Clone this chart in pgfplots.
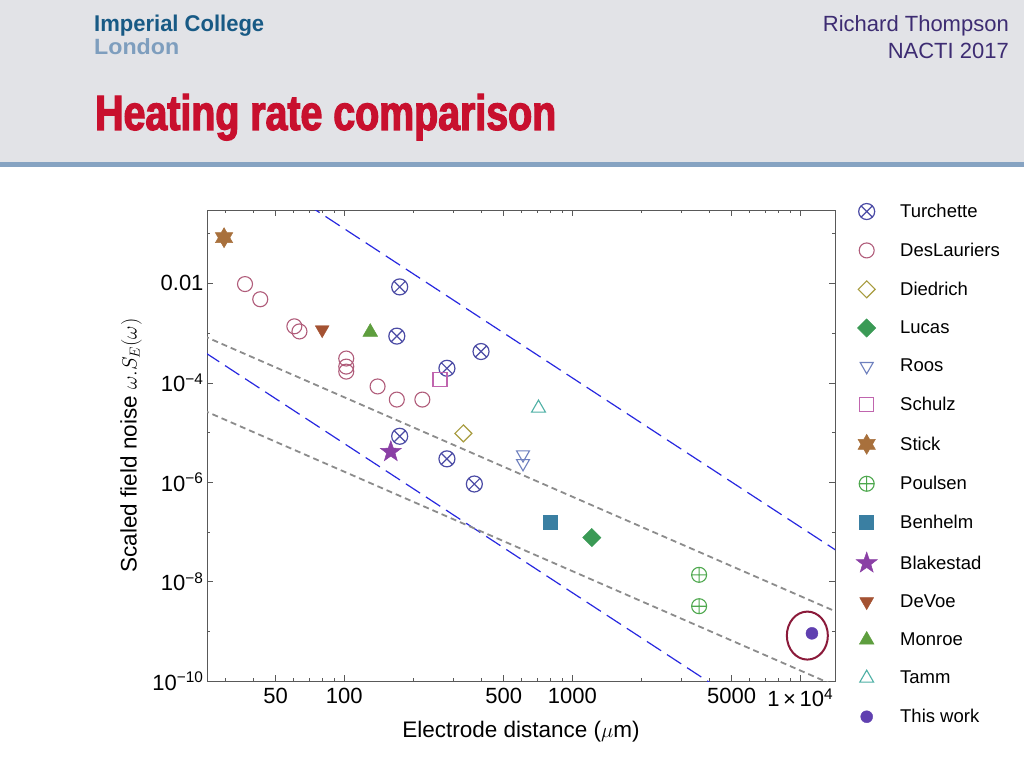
\documentclass[border=0pt]{standalone}
\usepackage{fontspec}
\setmainfont{Liberation Sans}
\newfontfamily\logofont[FakeStretch=0.95]{Liberation Sans}
\newfontfamily\titlefont[FakeStretch=0.68,FakeBold=2.2]{Liberation Sans}
\usepackage{pgfplots}
\pgfplotsset{compat=1.18}
\usepackage{graphicx}

\definecolor{hdrbg}{HTML}{E2E3E7}
\definecolor{hdrline}{HTML}{86A3C2}
\definecolor{icblue}{HTML}{185A85}
\definecolor{iclight}{HTML}{7E9EBE}
\definecolor{authc}{HTML}{3D2C72}
\definecolor{titlered}{HTML}{C8102E}
\definecolor{cturc}{HTML}{4B4BA5}
\definecolor{cdesl}{HTML}{B05C7A}
\definecolor{cdied}{HTML}{A89C40}
\definecolor{clucas}{HTML}{3A9A55}
\definecolor{croos}{HTML}{6E80BE}
\definecolor{cschulz}{HTML}{C065AE}
\definecolor{cstick}{HTML}{A8703C}
\definecolor{cpoul}{HTML}{4EA84E}
\definecolor{cbenh}{HTML}{3A7FA2}
\definecolor{cblake}{HTML}{8A3FA5}
\definecolor{cdevoe}{HTML}{A45232}
\definecolor{cmonroe}{HTML}{5E9E3E}
\definecolor{ctamm}{HTML}{4EB0A5}
\definecolor{cwork}{HTML}{6040B0}
\definecolor{cellipse}{HTML}{8B1A3A}
\definecolor{cblue}{HTML}{2828E0}
\definecolor{cgray}{HTML}{8C8C8C}

\pgfdeclareplotmark{sixstar}{%
  \pgfpathmoveto{\pgfpointpolar{90}{\pgfplotmarksize}}%
  \pgfpathlineto{\pgfpointpolar{120}{0.577\pgfplotmarksize}}%
  \pgfpathlineto{\pgfpointpolar{150}{\pgfplotmarksize}}%
  \pgfpathlineto{\pgfpointpolar{180}{0.577\pgfplotmarksize}}%
  \pgfpathlineto{\pgfpointpolar{210}{\pgfplotmarksize}}%
  \pgfpathlineto{\pgfpointpolar{240}{0.577\pgfplotmarksize}}%
  \pgfpathlineto{\pgfpointpolar{270}{\pgfplotmarksize}}%
  \pgfpathlineto{\pgfpointpolar{300}{0.577\pgfplotmarksize}}%
  \pgfpathlineto{\pgfpointpolar{330}{\pgfplotmarksize}}%
  \pgfpathlineto{\pgfpointpolar{0}{0.577\pgfplotmarksize}}%
  \pgfpathlineto{\pgfpointpolar{30}{\pgfplotmarksize}}%
  \pgfpathlineto{\pgfpointpolar{60}{0.577\pgfplotmarksize}}%
  \pgfpathclose\pgfusepathqfillstroke}
\pgfdeclareplotmark{fivestar}{%
  \pgfpathmoveto{\pgfpointpolar{90}{\pgfplotmarksize}}%
  \pgfpathlineto{\pgfpointpolar{126}{0.40\pgfplotmarksize}}%
  \pgfpathlineto{\pgfpointpolar{162}{\pgfplotmarksize}}%
  \pgfpathlineto{\pgfpointpolar{198}{0.40\pgfplotmarksize}}%
  \pgfpathlineto{\pgfpointpolar{234}{\pgfplotmarksize}}%
  \pgfpathlineto{\pgfpointpolar{270}{0.40\pgfplotmarksize}}%
  \pgfpathlineto{\pgfpointpolar{306}{\pgfplotmarksize}}%
  \pgfpathlineto{\pgfpointpolar{342}{0.40\pgfplotmarksize}}%
  \pgfpathlineto{\pgfpointpolar{18}{\pgfplotmarksize}}%
  \pgfpathlineto{\pgfpointpolar{54}{0.40\pgfplotmarksize}}%
  \pgfpathclose\pgfusepathqfillstroke}

\begin{document}
\begin{tikzpicture}[x=1pt,y=1pt]
\fill[white] (0,0) rectangle (1024,768);
\fill[hdrbg] (0,605) rectangle (1024,768);
\fill[hdrline] (0,601) rectangle (1024,606);
\node[anchor=base west, inner sep=0, text=icblue] at (94,736) {\resizebox{170pt}{16.5pt}{\logofont\bfseries Imperial College}};
\node[anchor=base west, inner sep=0, text=iclight] at (94,713) {\resizebox{85pt}{16pt}{\logofont\bfseries London}};
\node[anchor=base east, inner sep=0, text=authc] at (1009,736) {\fontsize{22}{22}\selectfont Richard Thompson};
\node[anchor=base east, inner sep=0, text=authc] at (1009,709) {\fontsize{22}{22}\selectfont NACTI 2017};
\node[anchor=base west, inner sep=0, text=titlered] at (95,638) {\resizebox{461pt}{36pt}{\titlefont\bfseries Heating rate comparison}};

\begin{axis}[
  at={(207pt,87pt)}, anchor=south west,
  scale only axis, width=628pt, height=471pt,
  xmode=log, ymode=log,
  xmin=25, xmax=14200, ymin=1e-10, ymax=0.3,
  axis line style={black!65, line width=0.8pt},
  tick style={black!65, line width=0.6pt},
  major tick length=6pt, minor tick length=3.5pt,
  tick align=inside,
  xtick={50,100,500,1000,5000,10000},
  xticklabels={50,100,500,1000,5000,{1\,×\,10\textsuperscript{4}}},
  minor xtick={30,40,60,70,80,90,200,300,400,600,700,800,900,2000,3000,4000,6000,7000,8000,9000},
  ytick={1e-10,1e-8,1e-6,1e-4,1e-2},
  yticklabels={10\textsuperscript{−10},10\textsuperscript{−8},10\textsuperscript{−6},10\textsuperscript{−4},0.01},
  minor ytick={1e-9,1e-7,1e-5,1e-3,1e-1},
  tick label style={font=\fontsize{22}{25}\selectfont},
  xticklabel style={yshift=-4pt},
  xlabel={Electrode distance ($\mu$m)},
  ylabel={Scaled field noise $\omega.S_E(\omega)$},
  label style={font=\fontsize{22.5}{26}\selectfont},
  xlabel style={at={(axis description cs:0.5,-0.108)}, anchor=center},
  ylabel style={at={(axis description cs:-0.121,0.5)}, anchor=center},
  legend style={draw=none, fill=none, at={(1.0287,1.0215)}, anchor=north west,
    font=\fontsize{18.5}{22}\selectfont, row sep=20pt, legend cell align=left,
    /tikz/every odd column/.append style={column sep=21pt}},
  legend cell align=left,
]
% reference lines
\addplot[cblue, line width=1.2pt, dash pattern=on 17pt off 7pt, forget plot] coordinates {(20,15.75) (20000,1.575e-8)};
\addplot[cblue, line width=1.2pt, dash pattern=on 17pt off 7pt, forget plot] coordinates {(20,7.5e-4) (20000,7.5e-13)};
\addplot[cgray, line width=1.8pt, dash pattern=on 6pt off 4pt, forget plot] coordinates {(20,1.28e-3) (20000,1.28e-9)};
\addplot[cgray, line width=1.8pt, dash pattern=on 6pt off 4pt, forget plot] coordinates {(20,4.07e-5) (20000,4.07e-11)};

\addplot[cturc, only marks, mark=otimes, mark size=8pt, mark options={draw=cturc, line width=1.2pt}] coordinates {
 (175,8.5e-3) (170,8.7e-4) (398,4.26e-4) (282,1.96e-4) (175,8.4e-6) (282,2.95e-6) (372,9.2e-7)};
\addlegendentry{Turchette}
\addplot[cdesl, only marks, mark=o, mark size=7.5pt, mark options={draw=cdesl, line width=1.1pt}] coordinates {
 (36.7,9.7e-3) (42.8,4.8e-3) (60.4,1.37e-3) (63.6,1.08e-3) (102,3.08e-4) (102,2.12e-4) (102,1.68e-4) (140,8.45e-5) (170,4.6e-5) (220,4.6e-5)};
\addlegendentry{DesLauriers}
\addplot[cdied, only marks, mark=square, mark size=6pt, mark options={draw=cdied, rotate=45, line width=1.1pt}] coordinates {(333,9.6e-6)};
\addlegendentry{Diedrich}
\addplot[clucas, only marks, mark=square*, mark size=6.5pt, mark options={draw=clucas, fill=clucas, rotate=45}] coordinates {(1218,7.7e-8)};
\addlegendentry{Lucas}
\addplot[croos, only marks, mark=triangle, mark size=7.5pt, mark options={draw=croos, rotate=180, line width=1.1pt}] coordinates {(608,3.6e-6) (608,2.4e-6)};
\addlegendentry{Roos}
\addplot[cschulz, only marks, mark=square, mark size=7pt, mark options={draw=cschulz, line width=1.1pt}] coordinates {(263,1.17e-4)};
\addlegendentry{Schulz}
\addplot[cstick, only marks, mark=sixstar, mark size=10pt, mark options={draw=cstick, fill=cstick, line width=0.5pt}] coordinates {(29.7,0.083)};
\addlegendentry{Stick}
\addplot[cpoul, only marks, mark=oplus, mark size=7.5pt, mark options={draw=cpoul, line width=1.1pt}] coordinates {(3600,1.37e-8) (3600,3.2e-9)};
\addlegendentry{Poulsen}
\addplot[cbenh, only marks, mark=square*, mark size=7pt, mark options={draw=cbenh, fill=cbenh}] coordinates {(802,1.55e-7)};
\addlegendentry{Benhelm}
\addplot[cblake, only marks, mark=fivestar, mark size=11pt, mark options={draw=cblake, fill=cblake, line width=0.5pt}] coordinates {(160,4.1e-6)};
\addlegendentry{Blakestad}
\addplot[cdevoe, only marks, mark=triangle*, mark size=8pt, mark options={draw=cdevoe, fill=cdevoe, rotate=180}] coordinates {(80,1.17e-3)};
\addlegendentry{DeVoe}
\addplot[cmonroe, only marks, mark=triangle*, mark size=8.5pt, mark options={draw=cmonroe, fill=cmonroe}] coordinates {(130,1.05e-3)};
\addlegendentry{Monroe}
\addplot[ctamm, only marks, mark=triangle, mark size=8pt, mark options={draw=ctamm, line width=1.1pt}] coordinates {(711,3.1e-5)};
\addlegendentry{Tamm}
\addplot[cwork, only marks, mark=*, mark size=6pt, mark options={draw=cwork, fill=cwork}] coordinates {(11250,9.1e-10)};
\addlegendentry{This work}
\draw[cellipse, line width=2pt] (axis cs:10740,8.2e-10) ellipse [x radius=20.5pt, y radius=24pt];
\end{axis}
\end{tikzpicture}
\end{document}
